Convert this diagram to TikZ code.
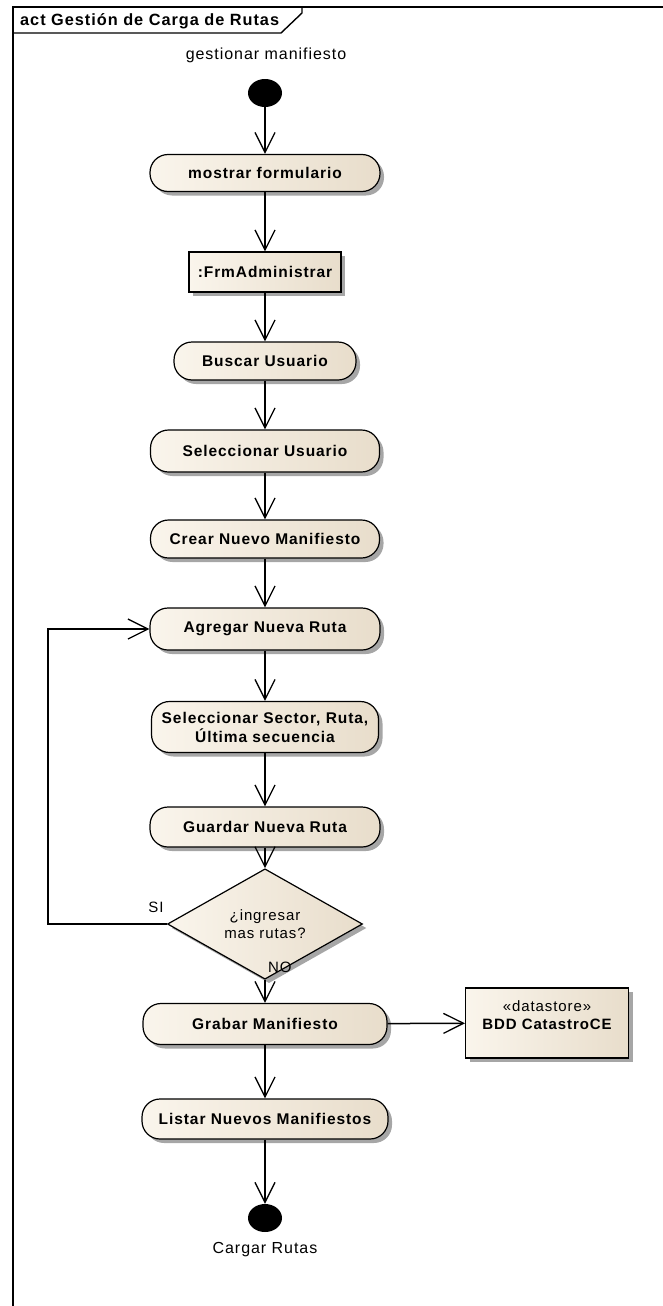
\documentclass[tikz,border=0pt]{standalone}
\usepackage{fontspec}
\setmainfont{Liberation Sans}
\newfontfamily\uifont[LetterSpace=6]{Liberation Sans}
\usetikzlibrary{arrows.meta,shapes.geometric,shadows}
\definecolor{actL}{RGB}{250,245,236}
\definecolor{actR}{RGB}{232,221,203}
\begin{document}
\begin{tikzpicture}[x=1pt,y=-1pt,
  txt/.style={font=\uifont\fontsize{16}{18}\selectfont, inner sep=0pt},
  dtxt/.style={font=\uifont\fontsize{15}{18}\selectfont, inner sep=0pt},
  btxt/.style={font=\uifont\bfseries\fontsize{15.5}{19}\selectfont, inner sep=0pt},
  shade/.style={left color=actL, right color=actR,
    drop shadow={shadow xshift=4pt, shadow yshift=-4pt, opacity=0.35, fill=black}},
  action/.style={btxt, shade, draw, line width=1.2pt, rounded corners=18pt,
    align=center, minimum width=#1},
  objbox/.style={btxt, shade, draw, line width=1.2pt, align=center},
  decision/.style={dtxt, shade, diamond, draw, line width=1.2pt, align=center,
    minimum width=195pt, minimum height=65pt},
  terminal/.style={ellipse, fill=black, minimum width=34pt, minimum height=28pt, inner sep=0pt},
  flow/.style={line width=1.5pt, -{Straight Barb[length=20pt,width=20pt,line width=1.3pt]}}
]
\useasboundingbox (0,0) rectangle (662,1306);

% diagram frame and name tab
\draw[line width=2pt] (13,1310) -- (13,7) -- (666,7);
\draw[line width=1.4pt] (13,33) -- (281,33) -- (302,13) -- (302,7);
\node[btxt, font=\uifont\bfseries\fontsize{16.3}{19}\selectfont, anchor=west] (title) at (20,21) {act Gestión de Carga de Rutas};

% initial node
\node[txt] (startlbl) at (266,55) {gestionar manifiesto};
\node[terminal] (start) at (265,93) {};

% actions
\node[action=230pt, minimum height=37pt] (mostrar) at (265,173) {mostrar formulario};
\node[objbox, minimum width=152pt, minimum height=40pt] (frm) at (265,272) {:FrmAdministrar};
\node[action=182pt, minimum height=38pt] (buscar) at (265,361) {Buscar Usuario};
\node[action=229pt, minimum height=42pt] (selusr) at (265,451) {Seleccionar Usuario};
\node[action=229pt, minimum height=38pt] (crear) at (265,539) {Crear Nuevo Manifiesto};
\node[action=230pt, minimum height=42pt] (agregar) at (265,629) {Agregar Nueva Ruta};
\node[action=227pt, minimum height=51pt] (selsec) at (265,727) {Seleccionar Sector, Ruta,\\Última secuencia};
\node[action=230pt, minimum height=40pt] (guardar) at (265,827) {Guardar Nueva Ruta};
\node[decision] (dec) at (265,924) {¿ingresar\\mas rutas?};
\node[action=244pt, minimum height=41pt] (grabar) at (265,1024) {Grabar Manifiesto};
\node[action=246pt, minimum height=40pt] (listar) at (265,1119) {Listar Nuevos Manifiestos};

% data store
\node[objbox, minimum width=163pt, minimum height=70pt] (bdd) at (547,1023) {};
\node[dtxt, align=center] (bddtxt) at (547,1015) {«datastore»\\{\bfseries BDD CatastroCE}};

% final node
\node[terminal] (end) at (265,1218) {};
\node[txt] (endlbl) at (265,1250) {Cargar Rutas};

% control flows
\draw[flow] (start) -- (mostrar);
\draw[flow] (mostrar) -- (frm);
\draw[flow] (frm) -- (buscar);
\draw[flow] (buscar) -- (selusr);
\draw[flow] (selusr) -- (crear);
\draw[flow] (crear) -- (agregar);
\draw[flow] (agregar) -- (selsec);
\draw[flow] (selsec) -- (guardar);
\draw[flow] (guardar) -- (dec);
\coordinate (loop) at (48,924);
\draw[flow] (dec.west) -- (loop) |- (agregar.west);
\node[dtxt] (si) at (156,907) {SI};
\draw[flow] (dec) -- (grabar);
\node[dtxt, anchor=west] (no) at (268,967) {NO};
\draw[flow] (grabar) -- (bdd);
\draw[flow] (grabar) -- (listar);
\draw[flow] (listar) -- (end);
\end{tikzpicture}
\end{document}
